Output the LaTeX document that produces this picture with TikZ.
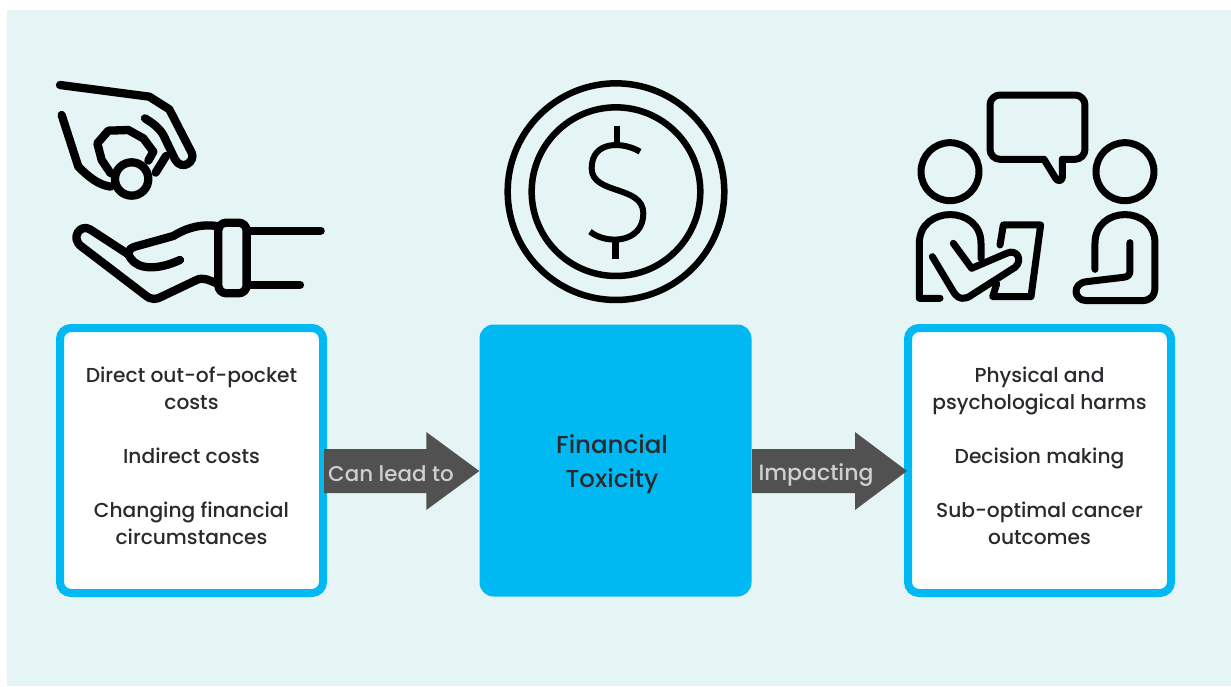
\documentclass[tikz,border=0pt]{standalone}
\usepackage{fontspec}
\setmainfont{Poppins Medium}
\usetikzlibrary{calc}
\definecolor{bgmint}{HTML}{E5F4F5}
\definecolor{cyanbox}{HTML}{00B9F2}
\definecolor{arrowgrey}{HTML}{515151}
\definecolor{inktext}{HTML}{2A2A2E}
\definecolor{arrowtext}{HTML}{CFCFCF}
\tikzset{
  listbox/.style={draw=cyanbox,line width=8pt,fill=white,rounded corners=11pt,minimum width=263pt,minimum height=265pt,inner sep=0pt},
  midbox/.style={fill=cyanbox,rounded corners=14pt,minimum width=272pt,minimum height=272pt,inner sep=0pt},
  midtext/.style={font=\fontsize{24.5}{33.5}\selectfont,text=inktext,align=center,inner sep=0pt},
  listtext/.style={font=\fontsize{20.2}{27}\selectfont,text=inktext,align=center,inner sep=0pt},
  arrowlabel/.style={font=\fontsize{21.4}{26}\selectfont,text=arrowtext,inner sep=0pt},
  flowarrow/.style={fill=arrowgrey},
  icon/.style={line width=8.3pt,line cap=round,line join=round,draw=black},
  iconmid/.style={line width=7pt,line cap=round,line join=round,draw=black},
  iconthin/.style={line width=6.5pt,line cap=butt,draw=black}
}
\begin{document}
\begin{tikzpicture}[x=1pt,y=-1pt]
\useasboundingbox (0,0) rectangle (1231,686);
\fill[bgmint] (7,10) rectangle (1231,686);
% boxes
\node[listbox] (left) at (191.5,460.5) {};
\node[midbox] (mid) at (615.5,460.5) {};
\node[listbox] (right) at (1039.5,460.5) {};
% texts
\node[midtext] (mt) at (612,464) {Financial\strut\\Toxicity\strut};
\node[listtext] (l1) at (191.5,391) {Direct out-of-pocket\strut\\costs\strut};
\node[listtext] (l2) at (191.5,458) {Indirect costs\strut};
\node[listtext] (l3) at (191.5,526) {Changing financial\strut\\circumstances\strut};
\node[listtext] (r1) at (1039.5,391) {Physical and\strut\\psychological harms\strut};
\node[listtext] (r2) at (1039.5,458) {Decision making\strut};
\node[listtext] (r3) at (1039.5,526) {Sub-optimal cancer\strut\\outcomes\strut};
% arrows
\coordinate (a1s) at ($(left.east)+(-3,10.5)$);
\coordinate (a1t) at ($(mid.west)+(0,10.5)$);
\coordinate (a2s) at ($(mid.east)+(0.5,10.5)$);
\coordinate (a2t) at ($(right.west)+(3,10.5)$);
\fill[flowarrow] ($(a1s)+(0,-22)$) -- ($(a1t)+(-53,-22)$) -- ($(a1t)+(-53,-39)$) -- (a1t) -- ($(a1t)+(-53,39)$) -- ($(a1t)+(-53,22)$) -- ($(a1s)+(0,22)$) -- cycle;
\fill[flowarrow] ($(a2s)+(0,-22)$) -- ($(a2t)+(-52,-22)$) -- ($(a2t)+(-52,-39)$) -- (a2t) -- ($(a2t)+(-52,39)$) -- ($(a2t)+(-52,22)$) -- ($(a2s)+(0,22)$) -- cycle;
\node[arrowlabel] (a1) at (391,474) {Can lead to};
\node[arrowlabel,font=\fontsize{22}{26}\selectfont] (a2) at (816,475) {Impacting};
% hands icon
\begin{scope}[shift={(40,70)},x=0.3333pt,y=-0.3333pt]
\draw[icon] (60,45) -- (328,80) -- (388,118) -- (455,248) .. controls (468,275) and (425,305) .. (405,268) -- (370,195) .. controls (355,170) and (335,158) .. (315,145);
\draw[icon] (65,135) -- (115,290) .. controls (145,320) and (175,345) .. (212,350);
\draw[icon] (212,310) -- (185,270) -- (172,220) -- (205,182) -- (265,180) -- (310,205) -- (340,245) -- (325,272);
\draw[icon] (378,258) -- (347,308);
\draw[icon,fill=bgmint] (275,327) circle (50);
% lower hand
\draw[icon] (530,468) .. controls (490,462) and (445,470) .. (400,498) -- (285,530) .. controls (262,537) and (262,552) .. (272,565) .. controls (295,600) and (355,600) .. (420,570);
\draw[icon] (265,553) -- (150,478) .. controls (120,460) and (90,505) .. (125,530) -- (315,675) .. controls (335,692) and (350,688) .. (365,680) -- (470,630) .. controls (490,620) and (510,632) .. (530,640);
\draw[icon,rounded corners=8pt] (535,458) rectangle (620,670);
\draw[icon] (625,482) -- (842,482);
\draw[icon] (625,645) -- (780,645);
\end{scope}
% coin icon
\begin{scope}[shift={(490,70)},x=0.3333pt,y=-0.3333pt]
\draw[line width=6.5pt,draw=black] (378,365) circle (325);
\draw[line width=6.5pt,draw=black] (378,365) circle (253);
\draw[iconthin,line width=6pt] (450,245) .. controls (400,215) and (305,210) .. (305,295) .. controls (305,375) and (460,345) .. (460,430) .. controls (460,520) and (350,525) .. (300,485);
\draw[iconthin] (381,168) -- (381,225);
\draw[iconthin] (376,510) -- (376,566);
\end{scope}
% people icon
\begin{scope}[shift={(900,80)},x=0.3333pt,y=-0.3333pt]
\draw[iconmid,rounded corners=10pt] (432,238) -- (270,238) -- (270,45) -- (555,45) -- (555,238) -- (487,238);
\draw[iconmid,rounded corners=2.5pt] (432,238) -- (472,303) -- (487,300) -- (487,238);
\draw[iconmid] (150,275) circle (87);
\draw[iconmid] (675,275) circle (87);
\draw[iconmid] (120,655) -- (58,655) -- (58,490) .. controls (58,375) and (243,375) .. (243,490) -- (243,535);
\draw[iconmid] (97,530) -- (160,635) .. controls (175,660) and (195,660) .. (215,645) -- (345,562) .. controls (370,540) and (350,505) .. (320,520) -- (215,565) -- (160,490);
\draw[iconmid] (300,495) -- (310,435) -- (422,435) -- (393,650) -- (278,650) -- (290,612);
\draw[iconmid] (585,568) -- (585,490) .. controls (585,375) and (765,375) .. (765,490) -- (765,620) .. controls (765,650) and (750,662) .. (725,662) -- (560,662) .. controls (520,662) and (515,610) .. (560,605) -- (670,592) .. controls (685,590) and (690,585) .. (690,570) -- (690,488);
\end{scope}
\end{tikzpicture}
\end{document}
